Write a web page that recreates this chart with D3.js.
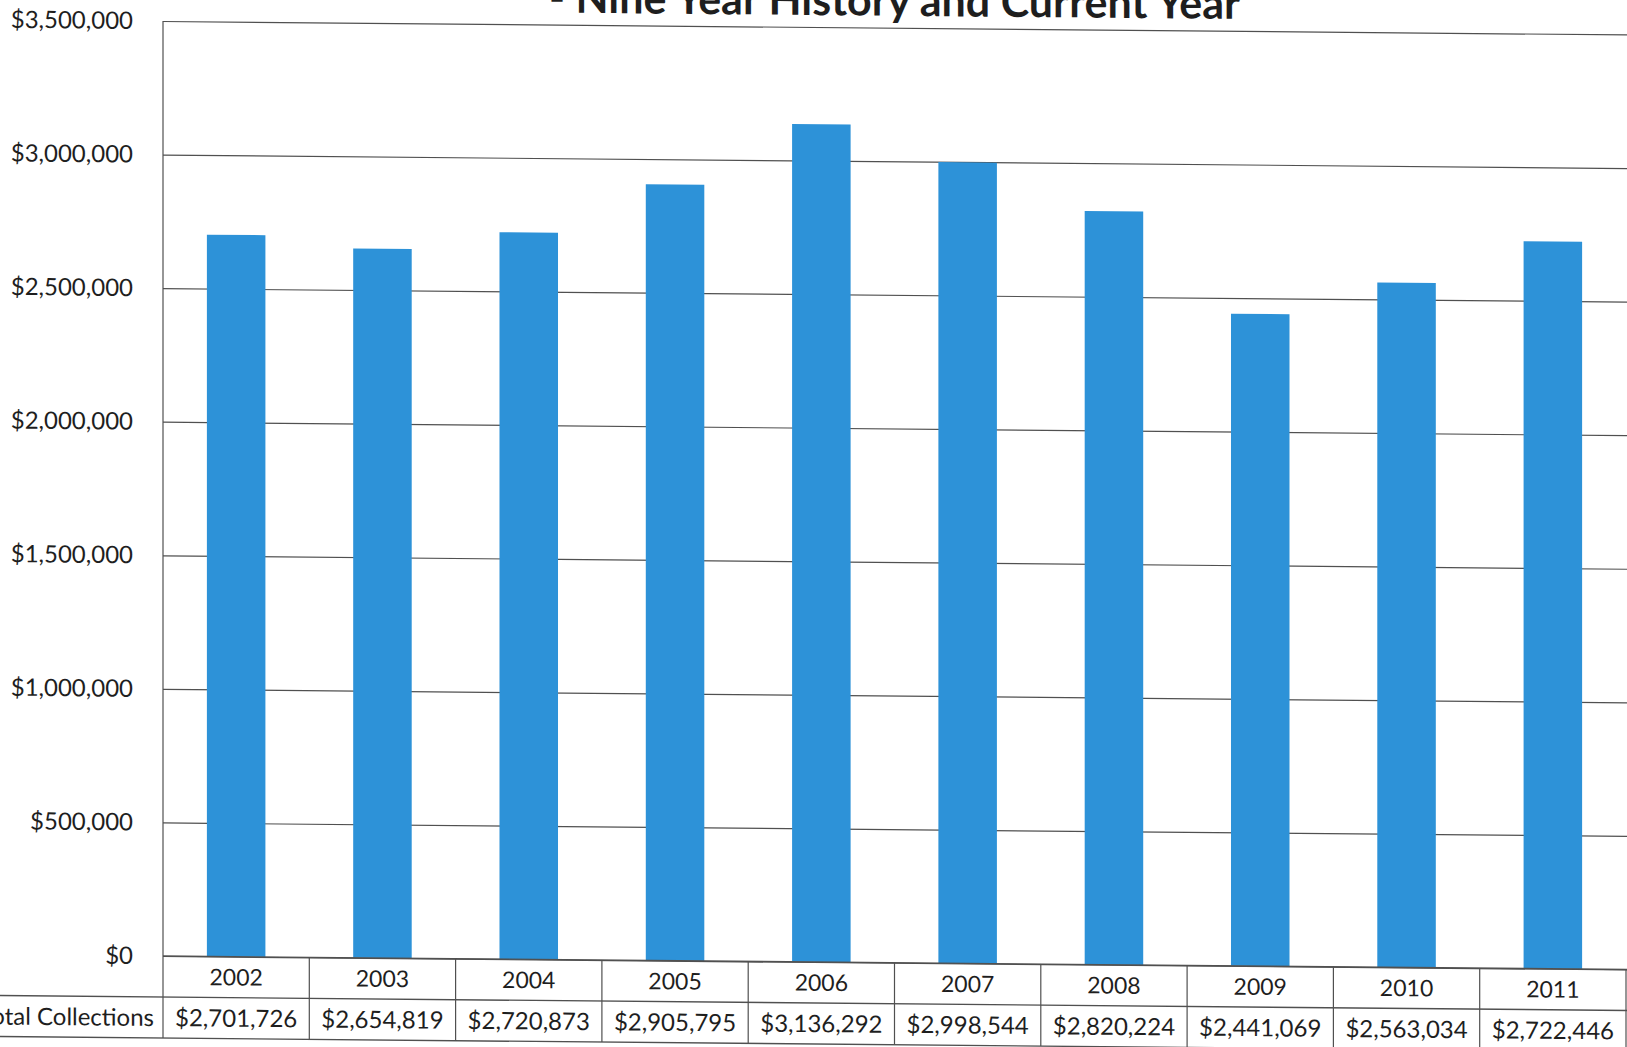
<!DOCTYPE html>
<html>
<head>
<meta charset="utf-8">
<script src="https://cdn.jsdelivr.net/npm/d3@7"></script>
<style>
  html, body { margin: 0; padding: 0; background: #ffffff; }
  svg { display: block; }
  text { font-family: Lato, "Noto Sans", sans-serif; fill: #1e1e1e; }
</style>
</head>
<body>
<svg id="chart" width="1627" height="1047"></svg>
<script>
// Collections by fiscal year
const years = ["2002", "2003", "2004", "2005", "2006", "2007", "2008", "2009", "2010", "2011"];
const collections = [2701726, 2654819, 2720873, 2905795, 3136292, 2998544, 2820224, 2441069, 2563034, 2722446];
const yTicks = [0, 500000, 1000000, 1500000, 2000000, 2500000, 3000000, 3500000];
const seriesName = "Total Collections";
const titleText = "- Nine Year History and Current Year";

const W = 1627, H = 1047;
const margin = { left: 163, right: 0, top: 21, plotBottom: 956 };
const plotW = 1463;
const rowH = 41;
const ruleColor = "#505050";

const svg = d3.select("#chart");

// whole drawing sits on a slight tilt, right side lower
const slope = 0.0092;
const g = svg.append("g")
  .attr("transform", `translate(0,${-margin.left * slope}) skewY(${Math.atan(slope) * 180 / Math.PI})`);

const x = d3.scaleBand()
  .domain(years)
  .range([margin.left, margin.left + plotW])
  .paddingInner(0.6)
  .paddingOuter(0.3);

const y = d3.scaleLinear()
  .domain([0, 3500000])
  .range([margin.plotBottom, margin.top]);

const fmt = d3.format("$,");

// title (bottom line of the heading)
g.append("text")
  .attr("x", margin.left + plotW / 2)
  .attr("y", 9)
  .attr("text-anchor", "middle")
  .attr("font-weight", "bold")
  .attr("font-size", 43)
  .text(titleText);

// horizontal gridlines with value labels
const yAxis = d3.axisLeft(y)
  .tickValues(yTicks)
  .tickFormat(fmt)
  .tickSize(-(W - margin.left))
  .tickPadding(30);

const ya = g.append("g")
  .attr("transform", `translate(${margin.left},0)`)
  .call(yAxis);
ya.select(".domain").remove();
ya.selectAll(".tick line")
  .attr("stroke", ruleColor)
  .attr("stroke-width", 1.2);
ya.selectAll(".tick text")
  .attr("font-size", 24)
  .attr("font-family", "Lato, sans-serif")
  .attr("fill", "#1e1e1e");

// bars
g.append("g").selectAll("rect")
  .data(years)
  .join("rect")
  .attr("x", d => x(d))
  .attr("width", x.bandwidth())
  .attr("y", (d, i) => y(collections[i]))
  .attr("height", (d, i) => y(0) - y(collections[i]))
  .attr("fill", "#2d92d8");

// left axis line running through the data table
g.append("line")
  .attr("x1", margin.left).attr("x2", margin.left)
  .attr("y1", margin.top).attr("y2", margin.plotBottom + 2 * rowH)
  .attr("stroke", ruleColor).attr("stroke-width", 1.2);

// data table
const table = g.append("g");
const colW = plotW / years.length;

// row rules
table.append("line")
  .attr("x1", margin.left).attr("x2", W)
  .attr("y1", margin.plotBottom).attr("y2", margin.plotBottom)
  .attr("stroke", ruleColor).attr("stroke-width", 1.4);
[1, 2].forEach(r => {
  table.append("line")
    .attr("x1", 0).attr("x2", W)
    .attr("y1", margin.plotBottom + r * rowH).attr("y2", margin.plotBottom + r * rowH)
    .attr("stroke", ruleColor).attr("stroke-width", 1.4);
});

// column rules
d3.range(1, years.length + 1).forEach(i => {
  const cx = margin.left + i * colW;
  table.append("line")
    .attr("x1", cx).attr("x2", cx)
    .attr("y1", margin.plotBottom).attr("y2", margin.plotBottom + 2 * rowH)
    .attr("stroke", ruleColor).attr("stroke-width", 1.2);
});

// year labels
table.selectAll("text.year")
  .data(years)
  .join("text")
  .attr("class", "year")
  .attr("x", d => x(d) + x.bandwidth() / 2)
  .attr("y", margin.plotBottom + rowH / 2)
  .attr("dy", "0.36em")
  .attr("text-anchor", "middle")
  .attr("font-size", 23)
  .text(d => d);

// value labels
table.selectAll("text.val")
  .data(collections)
  .join("text")
  .attr("class", "val")
  .attr("x", (d, i) => x(years[i]) + x.bandwidth() / 2)
  .attr("y", margin.plotBottom + rowH * 1.5)
  .attr("dy", "0.36em")
  .attr("text-anchor", "middle")
  .attr("font-size", 24)
  .text(d => fmt(d));

// series name in the row header
table.append("text")
  .attr("x", margin.left - 9)
  .attr("y", margin.plotBottom + rowH * 1.5)
  .attr("dy", "0.36em")
  .attr("text-anchor", "end")
  .attr("font-size", 24)
  .text(seriesName);
</script>
</body>
</html>
